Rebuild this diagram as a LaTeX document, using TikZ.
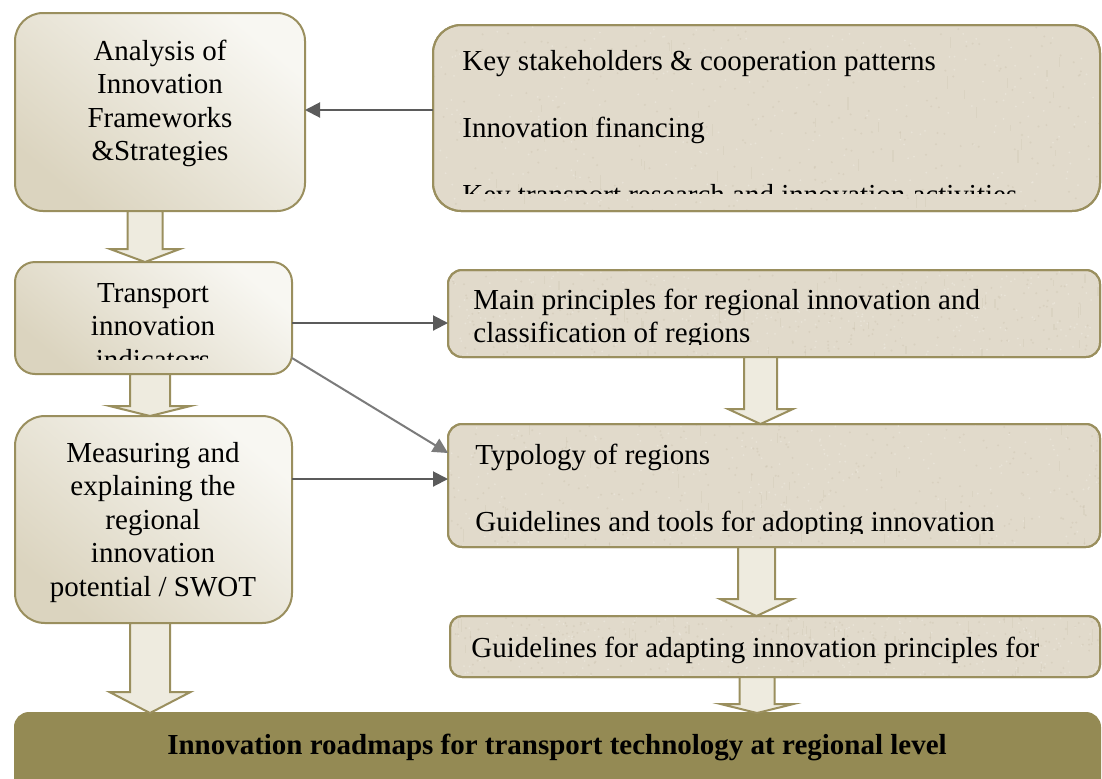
\documentclass[tikz,border=0pt]{standalone}
\usepackage{fontspec}
\setmainfont{Liberation Serif}
\usetikzlibrary{arrows.meta,calc}

\definecolor{barolive}{HTML}{948A54}
\definecolor{edge}{HTML}{9A8F5E}
\definecolor{paper}{HTML}{E1DACB}
\definecolor{paperdark}{HTML}{C9BFAA}
\definecolor{paperlight}{HTML}{EEE9DF}
\definecolor{cream}{HTML}{EEEBDF}
\definecolor{shadelight}{HTML}{F8F7F2}
\definecolor{shadedark}{HTML}{DBD4BF}
\definecolor{linegray}{HTML}{5B5B5B}
\definecolor{diaggray}{HTML}{7B7B7B}

\newcommand\dgfont{\fontsize{14.5}{16.75}\selectfont}

% block arrow between two stacked boxes:
% #1 upper node, #2 lower node, #3 x centre, #4 shaft half width,
% #5 head half width, #6 head length (all in picture units)
\newcommand\blockarrow[6]{%
  \draw[blk] let \p1=(#1.south), \p2=(#2.north) in
    ({(#3-#4)*0.5pt},\y1) -- ({(#3-#4)*0.5pt},{\y2+#6*0.5pt})
    -- ({(#3-#5)*0.5pt},{\y2+#6*0.5pt}) -- ({#3*0.5pt},\y2)
    -- ({(#3+#5)*0.5pt},{\y2+#6*0.5pt}) -- ({(#3+#4)*0.5pt},{\y2+#6*0.5pt})
    -- ({(#3+#4)*0.5pt},\y1) -- cycle;}

% paper grain inside a textured box: #1 node, #2 width, #3 height, #4 radius
\newcommand\grain[4]{%
  \begin{scope}
    \clip[rounded corners=#4] (#1.north west) rectangle (#1.south east);
    \begin{scope}[shift={(#1.north west)}]
      \foreach \i in {1,...,260}{
        \fill[paperdark, opacity=0.35] (rnd*#2, rnd*#3) circle (0.55pt);
        \fill[paperlight, opacity=0.6] (rnd*#2, rnd*#3) circle (0.5pt);
      }
      \foreach \i in {1,...,40}{
        \fill[paperdark, opacity=0.25] (rnd*#2, rnd*#3) rectangle ++(1.2, 6+rnd*8);
      }
    \end{scope}
  \end{scope}}

\tikzset{
  box/.style={draw=edge, line width=1pt, inner sep=0pt, outer sep=0pt, anchor=north west},
  shadedbox/.style={box, top color=shadelight, bottom color=shadedark, shading angle=-40},
  paperbox/.style={box, fill=paper},
  blk/.style={draw=edge, fill=cream, line width=1pt, line join=miter},
  ln/.style={draw=linegray, line width=1pt, -{Triangle[length=7.5pt,width=7.5pt]}},
  diag/.style={draw=diaggray, line width=1pt, -{Triangle[length=7.5pt,width=7.5pt]}},
  lbl/.style={inner sep=0pt, font=\dgfont},
}

\begin{document}
\begin{tikzpicture}[x=0.5pt, y=-0.5pt]
  \pgfmathsetseed{4217}
  \useasboundingbox (0,0) rectangle (1102,778);
  \fill[white] (0,0) rectangle (1102,778);

  % coordinates for the outline of every box (top-left corner)
  \coordinate (pA) at (15,13);
  \coordinate (pB) at (433,25);
  \coordinate (pC) at (15,262);
  \coordinate (pD) at (15,416);
  \coordinate (pF) at (448,270);
  \coordinate (pG) at (448,424);
  \coordinate (pH) at (450,616);
  \coordinate (pE) at (15,713);

  % left column
  \node[shadedbox, rounded corners=14pt, minimum width=145pt, minimum height=99pt] (A) at (pA) {};
  \node[shadedbox, rounded corners=10pt, minimum width=138.5pt, minimum height=56pt] (C) at (pC) {};
  \node[shadedbox, rounded corners=15pt, minimum width=138.5pt, minimum height=103.5pt] (D) at (pD) {};

  % right column
  \node[paperbox, rounded corners=14pt, minimum width=333.5pt, minimum height=93pt] (B) at (pB) {};
  \node[paperbox, rounded corners=7pt, minimum width=326pt, minimum height=43.5pt] (F) at (pF) {};
  \node[paperbox, rounded corners=7pt, minimum width=326pt, minimum height=61.5pt] (G) at (pG) {};
  \node[paperbox, rounded corners=6pt, minimum width=325pt, minimum height=30.5pt] (H) at (pH) {};

  % bottom bar
  \node[box, draw=barolive, fill=barolive, rounded corners=7pt, minimum width=542.5pt, minimum height=50pt] (E) at (pE) {};

  \grain{B}{667}{186}{14pt}
  \grain{F}{652}{87}{7pt}
  \grain{G}{652}{123}{7pt}
  \grain{H}{650}{61}{6pt}
  \draw[edge, line width=1pt, rounded corners=14pt] (B.north west) rectangle (B.south east);
  \draw[edge, line width=1pt, rounded corners=7pt] (F.north west) rectangle (F.south east);
  \draw[edge, line width=1pt, rounded corners=7pt] (G.north west) rectangle (G.south east);
  \draw[edge, line width=1pt, rounded corners=6pt] (H.north west) rectangle (H.south east);

  % block arrows
  \blockarrow{A}{C}{145}{17.5}{35}{13}
  \blockarrow{C}{D}{150}{20}{40.5}{10}
  \blockarrow{D}{E}{150}{20}{40.5}{21}
  \blockarrow{F}{G}{760.5}{16.5}{32.5}{15}
  \blockarrow{G}{H}{756.5}{18.5}{36.5}{17}
  \blockarrow{H}{E}{757}{17.5}{36.5}{9}

  % connectors
  \draw[ln] (B.west |- 0,110) -- (A.east |- 0,110);
  \draw[ln] (C.east |- 0,323) -- (F.west |- 0,323);
  \draw[diag] (C.east |- 0,358) -- (G.west |- 0,453);
  \draw[ln] (D.east |- 0,479) -- (G.west |- 0,479);

  % texts of the left column
  \node[lbl, anchor=base] (tA) at (160,60)
    {\begin{tabular}[t]{@{}c@{}}Analysis of\\Innovation\\Frameworks\\\&Strategies\end{tabular}};
  \begin{scope}
    \clip (C.north west) rectangle ($(C.south east)+(0,-15)$);
    \node[lbl, anchor=base] (tC) at (153,302)
      {\begin{tabular}[t]{@{}c@{}}Transport\\innovation\\indicators\end{tabular}};
  \end{scope}
  \node[lbl, anchor=base] (tD) at (153,462)
    {\begin{tabular}[t]{@{}c@{}}Measuring and\\explaining the\\regional\\innovation\\potential / SWOT\end{tabular}};

  % texts of the right column
  \begin{scope}
    \clip (B.north west) rectangle ($(B.south east)+(0,-18)$);
    \node[lbl, anchor=base west] (tB) at (462,70)
      {\begin{tabular}[t]{@{}l@{}}Key stakeholders \& cooperation patterns\\ \\Innovation financing\\ \\Key transport research and innovation activities\end{tabular}};
  \end{scope}
  \begin{scope}
    \clip (F.north west) rectangle ($(F.south east)+(0,-13)$);
    \node[lbl, anchor=base west] (tF) at (473,309)
      {\begin{tabular}[t]{@{}l@{}}Main principles for regional innovation and\\classification of regions\end{tabular}};
  \end{scope}
  \begin{scope}
    \clip (G.north west) rectangle ($(G.south east)+(0,-14)$);
    \node[lbl, anchor=base west] (tG) at (475,464)
      {\begin{tabular}[t]{@{}l@{}}Typology of regions\\ \\Guidelines and tools for adopting innovation\end{tabular}};
  \end{scope}
  \node[lbl, anchor=base west] (tH) at (471,657) {Guidelines for adapting innovation principles for};

  % bottom bar title
  \node[lbl, anchor=base, font=\dgfont\bfseries] (tE) at (557,754)
    {Innovation roadmaps for transport technology at regional level};
\end{tikzpicture}
\end{document}
